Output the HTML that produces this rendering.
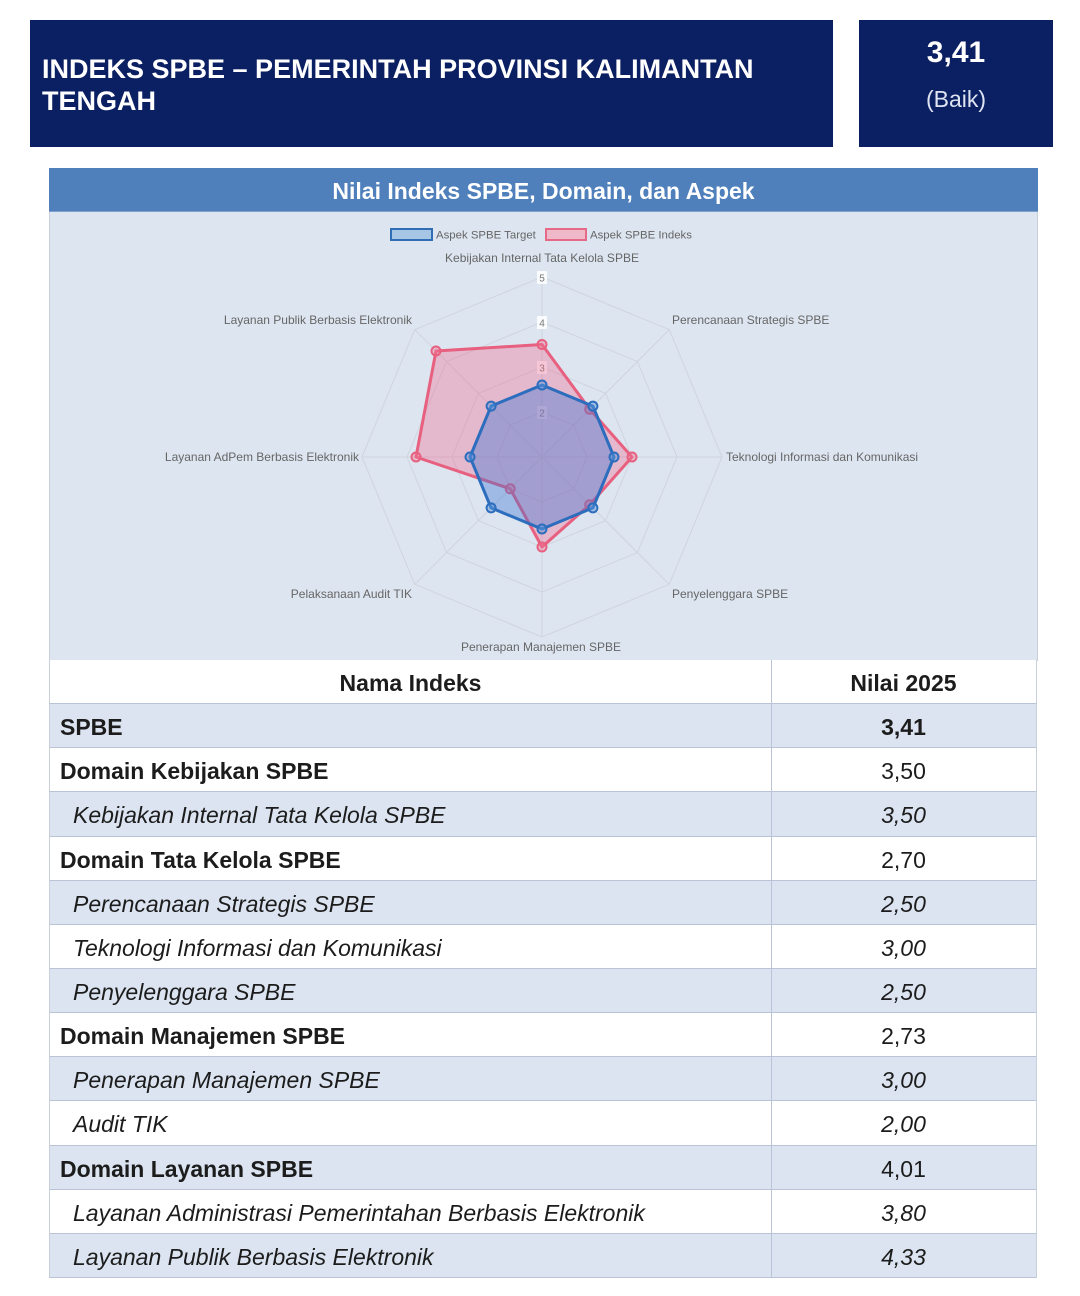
<!DOCTYPE html>
<html><head><meta charset="utf-8">
<style>
*{margin:0;padding:0;box-sizing:border-box}
body{width:1080px;height:1296px;background:#fff;position:relative;overflow:hidden;font-family:"Liberation Sans",Arial,sans-serif;color:#1c1c1c}
.hdr{position:absolute;top:20px;height:127px;background:#0b1f63;color:#fff}
.h1{left:30px;width:803px}
.h1 div{position:absolute;left:12px;top:33px;font-weight:bold;font-size:27px;line-height:32px;white-space:nowrap}
.h2{left:859px;width:194px;text-align:center}
.h2 .v{position:absolute;left:0;width:194px;top:16px;font-weight:bold;font-size:30px}
.h2 .b{position:absolute;left:0;width:194px;top:66px;font-size:23px;color:#dfe4f2}
.ttl{position:absolute;left:49px;top:168px;width:989px;height:44px;background:#4f80bc;color:#fff;font-weight:bold;font-size:23px;text-align:center;line-height:46px;border-bottom:1px solid #7fa0cc}
.chart{position:absolute;left:49px;top:212px;width:989px;height:449px;background:#dde5f0;border-left:1px solid #c9d0da;border-right:1px solid #c9d0da}
svg{position:absolute;left:0;top:0}
.tbl{position:absolute;left:49px;top:660px;width:988px}
.row{position:relative;height:44.15px;border-bottom:1.5px solid #b9c5d6;border-left:1px solid #c9d0da;border-right:1px solid #c9d0da;font-size:23px}
.row.b{background:#dbe4f0}
.row.w{background:#fff}
.row .n{position:absolute;left:10px;top:1px;line-height:44px;white-space:nowrap}
.row .n.i{left:23px;font-style:italic}
.row .v{position:absolute;left:721px;width:267px;top:0;padding-top:1px;line-height:44px;text-align:center;border-left:1.5px solid #b9c5d6;height:100%;padding-right:3px}
.bold{font-weight:bold}
.ital{font-style:italic}
.hd .n{left:0;width:721px;text-align:center}
</style></head><body>
<div class="hdr h1"><div>INDEKS SPBE – PEMERINTAH PROVINSI KALIMANTAN<br>TENGAH</div></div>
<div class="hdr h2"><div class="v">3,41</div><div class="b">(Baik)</div></div>
<div class="ttl">Nilai Indeks SPBE, Domain, dan Aspek</div>
<div class="chart"></div>
<svg width="1080" height="700" viewBox="0 0 1080 700" font-family="Liberation Sans, Arial, sans-serif">
  <!-- legend -->
  <rect x="391" y="229" width="41" height="11" fill="#a7c6e6" stroke="#2f6db5" stroke-width="2"/>
  <text x="436" y="238.5" font-size="11.4" fill="#666">Aspek SPBE Target</text>
  <rect x="546" y="229" width="40" height="11" fill="#f0b9c9" stroke="#e56a87" stroke-width="2"/>
  <text x="590" y="238.5" font-size="11.4" fill="#666">Aspek SPBE Indeks</text>
  <!-- grid -->
  <g fill="none" stroke="#d0d5dd" stroke-width="1">
    <polygon points="542,412 573.8,425.2 587,457 573.8,488.8 542,502 510.2,488.8 497,457 510.2,425.2"/>
    <polygon points="542,367 605.6,393.4 632,457 605.6,520.6 542,547 478.4,520.6 452,457 478.4,393.4"/>
    <polygon points="542,322 637.5,361.5 677,457 637.5,552.5 542,592 446.5,552.5 407,457 446.5,361.5"/>
    <polygon points="542,277 669.3,329.7 722,457 669.3,584.3 542,637 414.7,584.3 362,457 414.7,329.7"/>
    <line x1="542" y1="457" x2="542" y2="277"/>
    <line x1="542" y1="457" x2="669.3" y2="329.7"/>
    <line x1="542" y1="457" x2="722" y2="457"/>
    <line x1="542" y1="457" x2="669.3" y2="584.3"/>
    <line x1="542" y1="457" x2="542" y2="637"/>
    <line x1="542" y1="457" x2="414.7" y2="584.3"/>
    <line x1="542" y1="457" x2="362" y2="457"/>
    <line x1="542" y1="457" x2="414.7" y2="329.7"/>
  </g>
  <!-- tick labels -->
  <g font-size="10" fill="#777" text-anchor="middle">
    <rect x="537" y="271" width="10" height="13" fill="#fff" opacity="0.85"/><text x="542" y="281.5">5</text>
    <rect x="537" y="316" width="10" height="13" fill="#fff" opacity="0.85"/><text x="542" y="326.5">4</text>
    <rect x="537" y="361" width="10" height="13" fill="#fff" opacity="0.85"/><text x="542" y="371.5">3</text>
    <rect x="537" y="406" width="10" height="13" fill="#fff" opacity="0.85"/><text x="542" y="416.5">2</text>
  </g>
  <!-- red series -->
  <polygon points="542,344.5 589.7,409.3 632,457 589.7,504.7 542,547 510.2,488.8 416,457 436,351" fill="rgba(240,100,140,0.35)" stroke="#e8607f" stroke-width="3" stroke-linejoin="round"/>
  <g fill="rgba(240,120,150,0.4)" stroke="#e8607f" stroke-width="2">
    <circle cx="542" cy="344.5" r="4.5"/><circle cx="589.7" cy="409.3" r="4.5"/><circle cx="632" cy="457" r="4.5"/><circle cx="589.7" cy="504.7" r="4.5"/><circle cx="542" cy="547" r="4.5"/><circle cx="510.2" cy="488.8" r="4.5"/><circle cx="416" cy="457" r="4.5"/><circle cx="436" cy="351" r="4.5"/>
  </g>
  <!-- blue series -->
  <polygon points="542,385 592.9,406.1 614,457 592.9,507.9 542,529 491.1,507.9 470,457 491.1,406.1" fill="rgba(55,115,210,0.38)" stroke="#2d6dbd" stroke-width="3" stroke-linejoin="round"/>
  <g fill="rgba(90,150,220,0.45)" stroke="#2d6dbd" stroke-width="2">
    <circle cx="542" cy="385" r="4.5"/><circle cx="592.9" cy="406.1" r="4.5"/><circle cx="614" cy="457" r="4.5"/><circle cx="592.9" cy="507.9" r="4.5"/><circle cx="542" cy="529" r="4.5"/><circle cx="491.1" cy="507.9" r="4.5"/><circle cx="470" cy="457" r="4.5"/><circle cx="491.1" cy="406.1" r="4.5"/>
  </g>
  <!-- axis labels -->
  <g font-size="12" fill="#666">
    <text x="542" y="262" text-anchor="middle">Kebijakan Internal Tata Kelola SPBE</text>
    <text x="672" y="324">Perencanaan Strategis SPBE</text>
    <text x="726" y="461">Teknologi Informasi dan Komunikasi</text>
    <text x="672" y="598">Penyelenggara SPBE</text>
    <text x="541" y="651" text-anchor="middle">Penerapan Manajemen SPBE</text>
    <text x="412" y="598" text-anchor="end">Pelaksanaan Audit TIK</text>
    <text x="359" y="461" text-anchor="end">Layanan AdPem Berbasis Elektronik</text>
    <text x="412" y="324" text-anchor="end">Layanan Publik Berbasis Elektronik</text>
  </g>
</svg>
<div class="tbl">
  <div class="row w hd"><div class="n bold">Nama Indeks</div><div class="v bold">Nilai 2025</div></div>
  <div class="row b"><div class="n bold">SPBE</div><div class="v bold">3,41</div></div>
  <div class="row w"><div class="n bold">Domain Kebijakan SPBE</div><div class="v">3,50</div></div>
  <div class="row b"><div class="n i">Kebijakan Internal Tata Kelola SPBE</div><div class="v ital">3,50</div></div>
  <div class="row w"><div class="n bold">Domain Tata Kelola SPBE</div><div class="v">2,70</div></div>
  <div class="row b"><div class="n i">Perencanaan Strategis SPBE</div><div class="v ital">2,50</div></div>
  <div class="row w"><div class="n i">Teknologi Informasi dan Komunikasi</div><div class="v ital">3,00</div></div>
  <div class="row b"><div class="n i">Penyelenggara SPBE</div><div class="v ital">2,50</div></div>
  <div class="row w"><div class="n bold">Domain Manajemen SPBE</div><div class="v">2,73</div></div>
  <div class="row b"><div class="n i">Penerapan Manajemen SPBE</div><div class="v ital">3,00</div></div>
  <div class="row w"><div class="n i">Audit TIK</div><div class="v ital">2,00</div></div>
  <div class="row b"><div class="n bold">Domain Layanan SPBE</div><div class="v">4,01</div></div>
  <div class="row w"><div class="n i">Layanan Administrasi Pemerintahan Berbasis Elektronik</div><div class="v ital">3,80</div></div>
  <div class="row b"><div class="n i">Layanan Publik Berbasis Elektronik</div><div class="v ital">4,33</div></div>
</div>
</body></html>
